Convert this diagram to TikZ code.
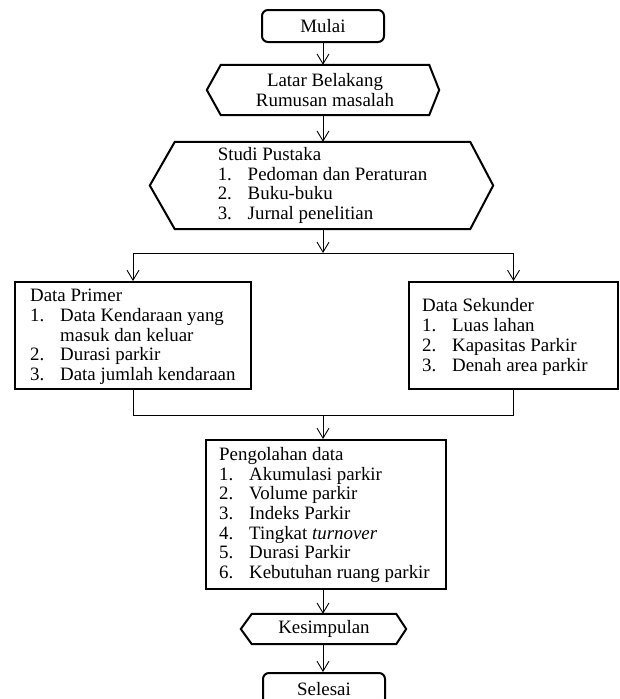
\documentclass[tikz,border=0pt]{standalone}
\usepackage{fontspec}
\setmainfont{Liberation Serif}
\usetikzlibrary{arrows.meta}
\newcommand{\nomor}[1]{\makebox[30pt][l]{#1}}
\tikzset{
  kotak/.style={draw, line width=2pt, inner sep=0pt},
  ujung/.style={draw, line width=2pt, rounded corners=6pt, inner sep=0pt, align=center},
  isi/.style={inner sep=0pt, align=left, anchor=west},
  panah/.style={line width=0.9pt, -{Straight Barb[length=10pt,width=12pt]}},
  garis/.style={line width=0.9pt},
}
\begin{document}
\begin{tikzpicture}[x=1pt, y=-1pt, font=\fontsize{18.9}{19.7}\selectfont]
	\useasboundingbox (0, 0) rectangle (620, 699);

	% awal dan akhir
	\node[ujung, minimum width=122pt, minimum height=32pt] (mulai) at (323, 26) {Mulai};
	\node[ujung, minimum width=122pt, minimum height=32pt] (selesai) at (324, 689) {Selesai};

	% segi enam
	\node[inner sep=0pt, minimum width=208pt, minimum height=50pt, align=center] (latar) at (325, 90) {Latar Belakang\\Rumusan masalah};
	\draw[kotak] (latar.north west) -- (latar.north east) -- ([xshift=10pt]latar.east) -- (latar.south east) -- (latar.south west) -- ([xshift=-14pt]latar.west) -- cycle;

	\node[inner sep=0pt, minimum width=295pt, minimum height=87pt, align=left] (studi) at (322.5, 185.5) {Studi Pustaka\\
		\nomor{1.}Pedoman dan Peraturan\\
		\nomor{2.}Buku-buku\\
		\nomor{3.}Jurnal penelitian};
	\draw[kotak] (studi.north west) -- (studi.north east) -- ([xshift=23pt]studi.east) -- (studi.south east) -- (studi.south west) -- ([xshift=-25pt]studi.west) -- cycle;

	\node[inner sep=0pt, minimum width=144pt, minimum height=30pt] (kes) at (324, 629) {Kesimpulan};
	\draw[kotak] (kes.north west) -- (kes.north east) -- ([xshift=10pt]kes.east) -- (kes.south east) -- (kes.south west) -- ([xshift=-11pt]kes.west) -- cycle;

	% kotak data
	\node[kotak, minimum width=236pt, minimum height=107pt] (primer) at (133, 335.5) {};
	\node[isi] (primer isi) at (30, 337) {Data Primer\\
		\nomor{1.}Data Kendaraan yang\\
		\hspace*{30pt}masuk dan keluar\\
		\nomor{2.}Durasi parkir\\
		\nomor{3.}Data jumlah kendaraan};

	\node[kotak, minimum width=209pt, minimum height=107pt] (sekunder) at (513.5, 335.5) {};
	\node[isi] (sekunder isi) at (422, 337) {Data Sekunder\\
		\nomor{1.}Luas lahan\\
		\nomor{2.}Kapasitas Parkir\\
		\nomor{3.}Denah area parkir};

	\node[kotak, minimum width=240pt, minimum height=149pt] (olah) at (326, 514.5) {};
	\node[isi] (olah isi) at (219, 515) {Pengolahan data\\
		\nomor{1.}Akumulasi parkir\\
		\nomor{2.}Volume parkir\\
		\nomor{3.}Indeks Parkir\\
		\nomor{4.}Tingkat \textit{turnover}\\
		\nomor{5.}Durasi Parkir\\
		\nomor{6.}Kebutuhan ruang parkir};

	% percabangan
	\coordinate (cabang) at (323, 253);
	\coordinate (gabung) at (323, 415);

	% panah
	\draw[panah] (mulai.south) -- (mulai.south |- latar.north);
	\draw[panah] (mulai.south |- latar.south) -- (mulai.south |- studi.north);
	\draw[panah] (cabang |- studi.south) -- (cabang);
	\draw[garis] (primer.north |- cabang) -- (sekunder.north |- cabang);
	\draw[panah] (primer.north |- cabang) -- (primer.north);
	\draw[panah] (sekunder.north |- cabang) -- (sekunder.north);
	\draw[garis] (primer.south) -- (primer.south |- gabung) -- (sekunder.south |- gabung) -- (sekunder.south);
	\draw[panah] (gabung) -- (gabung |- olah.north);
	\draw[panah] (gabung |- olah.south) -- (gabung |- kes.north);
	\draw[panah] (gabung |- kes.south) -- (gabung |- selesai.north);
\end{tikzpicture}
\end{document}
